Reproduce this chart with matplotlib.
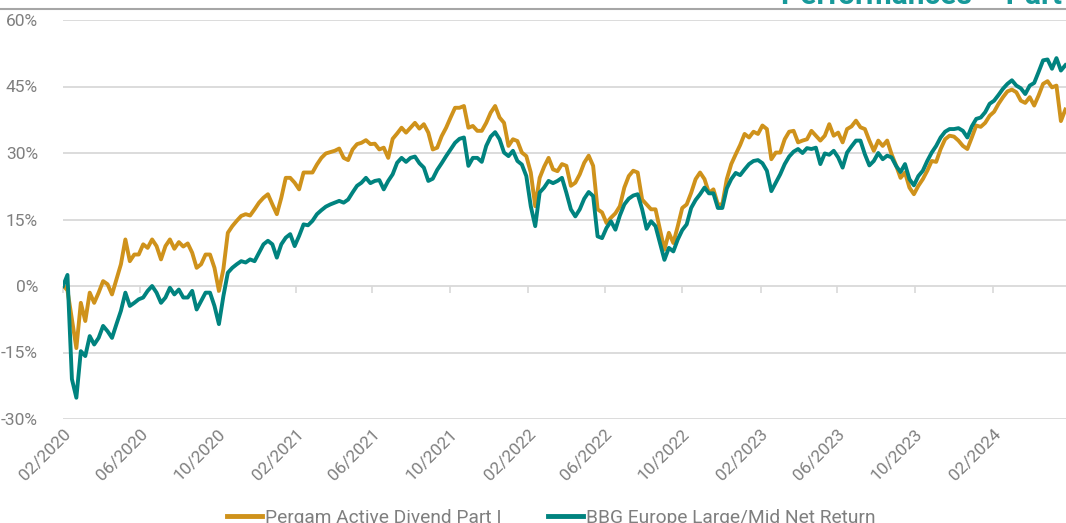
import matplotlib
matplotlib.use("Agg")
import matplotlib.pyplot as plt
from matplotlib.lines import Line2D
import pandas as pd

plt.rcParams['font.family'] = ['Roboto', 'DejaVu Sans']

start_date = "2020-02-01"

pergam = [
    0.2, -1.0, -7.5, -14.0, -3.8, -7.9, -1.5, -3.8, -1.5, 1.1,
    0.4, -1.9, 1.5, 4.9, 10.5, 5.6, 7.1, 7.1, 9.4, 8.6,
    10.5, 9.0, 6.0, 9.0, 10.5, 8.4, 9.9, 8.9, 9.6, 7.5,
    4.1, 4.9, 7.1, 7.1, 4.1, -1.1, 3.8, 12.0, 13.5, 14.7,
    15.8, 16.2, 15.9, 17.3, 18.8, 19.9, 20.7, 18.4, 16.2, 19.9,
    24.4, 24.4, 23.3, 21.8, 25.6, 25.6, 25.6, 27.4, 28.9, 29.9,
    30.2, 30.5, 31.0, 28.9, 28.4, 30.8, 32.0, 32.3, 32.9, 32.0,
    32.1, 30.8, 31.2, 28.9, 33.2, 34.4, 35.7, 34.6, 35.7, 36.8,
    35.5, 36.5, 34.6, 30.8, 31.2, 33.8, 35.7, 38.0, 40.2, 40.2,
    40.6, 35.7, 36.1, 35.0, 35.0, 36.8, 39.1, 40.6, 38.0, 36.8,
    31.6, 33.1, 32.7, 30.1, 29.3, 25.6, 18.0, 24.4, 26.9, 28.9,
    26.3, 25.9, 27.5, 27.1, 22.6, 23.3, 25.2, 27.8, 29.4, 27.1,
    17.3, 16.6, 14.2, 15.4, 16.4, 18.0, 22.2, 24.8, 26.0, 25.6,
    19.5, 18.4, 17.3, 17.3, 12.7, 8.2, 12.0, 9.7, 13.5, 17.6,
    18.4, 21.0, 24.1, 25.6, 24.1, 21.0, 21.8, 18.4, 18.4, 24.1,
    27.5, 29.7, 31.8, 34.3, 33.5, 34.8, 34.3, 36.2, 35.4, 28.6,
    30.1, 30.1, 33.1, 34.8, 35.0, 32.4, 32.8, 33.1, 35.0, 33.9,
    32.8, 33.9, 36.5, 33.9, 34.6, 32.4, 35.4, 36.0, 37.3, 35.8,
    35.4, 32.8, 30.5, 32.8, 31.6, 32.8, 29.7, 27.2, 24.4, 25.6,
    22.2, 20.7, 22.6, 24.1, 26.0, 28.2, 28.0, 30.9, 33.1, 33.9,
    33.7, 32.8, 31.6, 30.9, 33.5, 36.2, 35.9, 36.8, 38.4, 39.3,
    41.1, 42.6, 43.9, 44.3, 43.7, 41.8, 41.3, 42.6, 40.7, 43.0,
    45.6, 46.2, 44.8, 45.2, 37.2, 39.8,
]

bbg = [
    0.0, 2.5, -21.0, -25.2, -14.7, -15.8, -11.3, -13.2, -11.7, -9.0,
    -10.2, -11.7, -8.6, -5.6, -1.5, -4.5, -3.8, -3.0, -2.6, -1.1,
    0.0, -1.5, -3.8, -2.6, -0.4, -1.9, -0.8, -2.6, -2.6, -1.1,
    -5.3, -3.4, -1.5, -1.5, -4.5, -8.6, -2.3, 3.0, 4.1, 4.9,
    5.6, 5.3, 6.0, 5.6, 7.5, 9.4, 10.2, 9.4, 6.4, 9.4,
    10.9, 11.7, 9.0, 11.3, 13.9, 13.7, 14.7, 16.2, 17.1, 17.9,
    18.4, 18.8, 19.2, 18.8, 19.5, 21.1, 22.6, 23.3, 24.4, 23.2,
    23.7, 23.9, 21.8, 23.7, 25.2, 27.8, 28.9, 28.0, 28.9, 29.2,
    27.7, 26.7, 23.7, 24.2, 26.2, 27.7, 29.3, 30.8, 32.3, 33.2,
    33.5, 27.1, 28.9, 28.9, 28.0, 31.6, 33.7, 34.7, 33.1, 30.1,
    29.3, 30.5, 28.2, 27.4, 24.8, 18.0, 13.5, 21.1, 22.2, 23.7,
    23.2, 23.7, 24.4, 21.0, 17.3, 15.7, 17.3, 19.7, 21.2, 20.3,
    11.2, 10.8, 13.1, 14.6, 12.7, 15.9, 18.4, 19.7, 20.4, 20.7,
    17.3, 12.9, 14.6, 13.5, 9.7, 5.9, 8.6, 7.8, 10.5, 12.6,
    13.9, 17.6, 19.4, 20.7, 22.2, 20.9, 20.9, 17.6, 17.6, 22.0,
    24.1, 25.5, 25.0, 26.3, 27.5, 28.2, 28.4, 27.7, 26.0, 21.4,
    23.3, 25.2, 27.5, 29.2, 30.3, 30.9, 30.0, 31.1, 30.9, 31.2,
    27.5, 29.9, 29.6, 30.5, 29.0, 26.7, 30.1, 31.5, 32.8, 32.8,
    29.7, 27.2, 28.2, 30.0, 28.6, 29.4, 29.0, 27.1, 25.7, 27.5,
    24.1, 22.7, 24.8, 26.0, 28.2, 30.1, 31.6, 33.5, 34.8, 35.4,
    35.4, 35.6, 35.0, 33.5, 36.0, 37.7, 38.0, 39.2, 41.1, 41.8,
    43.1, 44.5, 45.6, 46.4, 45.2, 44.6, 43.3, 45.2, 45.8, 48.3,
    50.9, 51.1, 49.0, 51.4, 48.6, 49.8,
]

series_names = ["Pergam Active Divend Part I", "BBG Europe Large/Mid Net Return"]
tick_months = ["2020-02", "2020-06", "2020-10", "2021-02", "2021-06", "2021-10",
               "2022-02", "2022-06", "2022-10", "2023-02", "2023-06", "2023-10",
               "2024-02"]
y_ticks = [-30, -15, 0, 15, 30, 45, 60]
title_text = "Performances \u2013 Part"

dates = pd.date_range(start_date, periods=len(pergam), freq="7D")

GOLD = "#CF921B"
TEAL = "#00837F"
GRID = "#D9D9D9"
TXT = "#7F7F7F"

fig = plt.figure(figsize=(10.66, 5.23), dpi=100)
ax = fig.add_axes([63 / 1066, (523 - 419) / 523, 1 - 63 / 1066, (419 - 20) / 523])

ax.plot(dates, pergam, color=GOLD, lw=2.8, solid_joinstyle="round", label=series_names[0], zorder=3)
ax.plot(dates, bbg, color=TEAL, lw=2.8, solid_joinstyle="round", label=series_names[1], zorder=4)

ax.set_ylim(-30, 60)
ax.set_xlim(dates[0], dates[-1] + pd.Timedelta(days=1))
ax.set_yticks(y_ticks)
ax.set_yticklabels([f"{v}%" for v in y_ticks])
ax.yaxis.grid(True, color=GRID, lw=1.3)
ax.set_axisbelow(True)
for s in ax.spines.values():
    s.set_visible(False)
ax.tick_params(axis="y", length=0, pad=18, labelsize=12.5, labelcolor=TXT)

tick_dates = pd.to_datetime(tick_months)
ax.set_xticks(tick_dates)
ax.set_xticklabels([d.strftime("%m/%Y") for d in tick_dates], rotation=45,
                   ha="right", va="top", rotation_mode="anchor")
ax.tick_params(axis="x", length=0, pad=5, labelsize=12.5, labelcolor=TXT)

# small tick marks on the 0% line
sec = ax.secondary_xaxis(30 / 90)
sec.set_xticks(tick_dates)
sec.set_xticklabels([""] * len(tick_dates))
sec.tick_params(axis="x", length=5, width=1.2, color=GRID, direction="out")
sec.spines["bottom"].set_visible(False)

# header rule and clipped title
fig.add_artist(Line2D([0, 1], [1 - 9 / 523, 1 - 9 / 523], color="#A6A6A6", lw=1.5))
fig.text(781 / 1066, 1 - 4 / 523, title_text, color="#17999A", fontsize=21.5,
         fontweight="bold", ha="left", va="baseline")

leg = fig.legend(loc="lower center", bbox_to_anchor=(0.517, -0.04), ncol=2, frameon=False,
                 fontsize=13.8, handlelength=1.85, handletextpad=0.15, columnspacing=2.4,
                 labelcolor=TXT)
for h in leg.get_lines():
    h.set_linewidth(3.5)

fig.savefig("out.png", dpi=100)
